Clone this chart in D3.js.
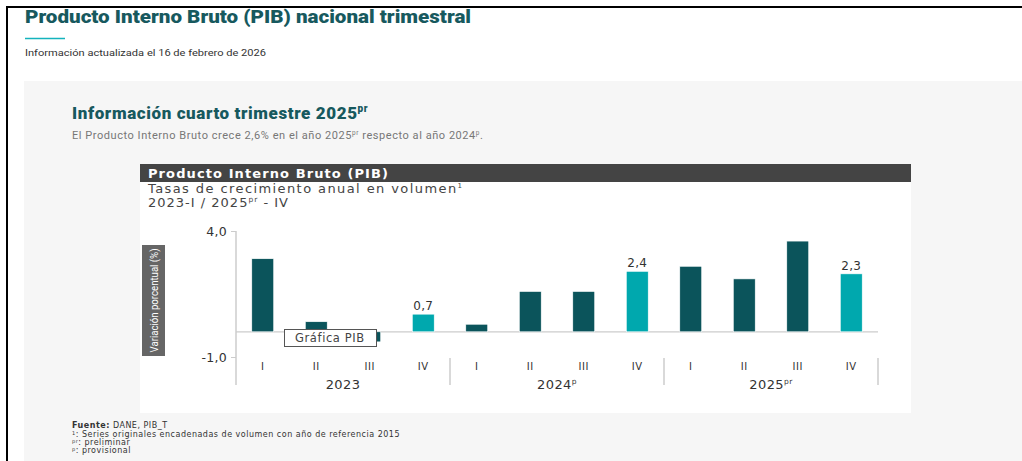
<!DOCTYPE html>
<html>
<head>
<meta charset="utf-8">
<script src="https://cdn.jsdelivr.net/npm/d3@7"></script>
<style>
  body { margin:0; padding:0; background:#fff; font-family: Roboto, "Open Sans", sans-serif; }
  svg { display:block; }
</style>
</head>
<body>
<svg class="svg1"></svg>
<script>
var canvasW = 1022;
var canvasH = 461;

// datos
var years = ["2023", "2024", "2025"];
var yearSup = ["", "p", "pr"];
var quarters = ["I", "II", "III", "IV"];
var values = [2.9, 0.4, -0.4, 0.7, 0.3, 1.6, 1.6, 2.4, 2.6, 2.1, 3.6, 2.3];
var yTicks = [4, -1];
var footNotes = [
  {sup: "1", txt: ": Series originales encadenadas de volumen con año de referencia 2015"},
  {sup: "pr", txt: ": preliminar"},
  {sup: "p", txt: ": provisional"}
];

var darkTeal = "#0b545b";
var lightTeal = "#00a8ae";
var titleTeal = "#17595e";
var chartFont = "'DejaVu Sans', sans-serif";
var pageFont = "Roboto, 'Open Sans', sans-serif";

var points = [];
var i = 0;
for (i = 0; i < values.length; i++) {
  points.push({
    id: years[Math.floor(i / 4)] + "-" + quarters[i % 4],
    year: Math.floor(i / 4),
    q: quarters[i % 4],
    v: values[i]
  });
}

var fmt = function(d){ return d3.format(".1f")(d).replace(".", ",").replace("\u2212", "-"); };

var svg = d3.select(".svg1")
  .attr("width", canvasW)
  .attr("height", canvasH)
  .style("font-family", pageFont);

svg.append("rect").attr("width", "100%").attr("height", "100%").attr("fill", "#fff");

// marco negro
svg.append("line").attr("x1", 6).attr("x2", canvasW).attr("y1", 7).attr("y2", 7)
  .attr("stroke", "#000").attr("stroke-width", 2);
svg.append("line").attr("x1", 7).attr("x2", 7).attr("y1", 6).attr("y2", canvasH)
  .attr("stroke", "#000").attr("stroke-width", 2);

// encabezado de la pagina
svg.append("text").attr("x", 25).attr("y", 23)
  .attr("font-size", 18).attr("font-weight", 900).attr("fill", titleTeal)
  .attr("textLength", 446).attr("lengthAdjust", "spacingAndGlyphs")
  .text("Producto Interno Bruto (PIB) nacional trimestral");
svg.append("line").attr("x1", 25).attr("x2", 65).attr("y1", 38.5).attr("y2", 38.5)
  .attr("stroke", "#14b3bd").attr("stroke-width", 1.5);
svg.append("text").attr("x", 25).attr("y", 56)
  .attr("font-size", 9.5).attr("fill", "#333")
  .attr("textLength", 241).attr("lengthAdjust", "spacingAndGlyphs")
  .text("Información actualizada el 16 de febrero de 2026");

// panel gris
svg.append("rect").attr("x", 24).attr("y", 81).attr("width", canvasW - 24).attr("height", canvasH - 81)
  .attr("fill", "#f6f6f6");

var t1 = svg.append("text").attr("x", 72).attr("y", 119)
  .attr("font-size", 17).attr("font-weight", 900).attr("fill", titleTeal)
  .attr("letter-spacing", 0.6);
t1.append("tspan").text("Información cuarto trimestre 2025");
t1.append("tspan").attr("font-size", 10).attr("dy", -7).text("pr");

var t2 = svg.append("text").attr("x", 72).attr("y", 139)
  .attr("font-size", 11).attr("fill", "#777").attr("letter-spacing", 0.55);
t2.append("tspan").text("El Producto Interno Bruto crece 2,6% en el año 2025");
t2.append("tspan").attr("font-size", 6.5).attr("dy", -4).text("pr");
t2.append("tspan").attr("dy", 4).text(" respecto al año 2024");
t2.append("tspan").attr("font-size", 6.5).attr("dy", -4).text("p");
t2.append("tspan").attr("dy", 4).text(".");

// caja de la grafica
svg.append("rect").attr("x", 140).attr("y", 164).attr("width", 771).attr("height", 249).attr("fill", "#fff");
svg.append("rect").attr("x", 140).attr("y", 164).attr("width", 771).attr("height", 18).attr("fill", "#444");

var chart = svg.append("g").style("font-family", chartFont);

chart.append("text").attr("x", 148).attr("y", 178)
  .attr("font-size", 13).attr("font-weight", 700).attr("fill", "#fff")
  .attr("textLength", 240).attr("lengthAdjust", "spacing")
  .text("Producto Interno Bruto (PIB)");

var s1 = chart.append("text").attr("x", 148).attr("y", 193)
  .attr("font-size", 13).attr("fill", "#444")
  .attr("textLength", 314).attr("lengthAdjust", "spacing");
s1.append("tspan").text("Tasas de crecimiento anual en volumen");
s1.append("tspan").attr("font-size", 7).attr("dy", -5).text("1");
var s2 = chart.append("text").attr("x", 148).attr("y", 207)
  .attr("font-size", 13).attr("fill", "#444")
  .attr("textLength", 140).attr("lengthAdjust", "spacing");
s2.append("tspan").text("2023-I / 2025");
s2.append("tspan").attr("font-size", 7.5).attr("dy", -5).text("pr");
s2.append("tspan").attr("dy", 5).text(" - IV");

// escalas
var x = d3.scaleBand()
  .domain(points.map(function(d){ return d.id; }))
  .range([236, 878])
  .paddingInner(0.59)
  .paddingOuter(0.295);
var y = d3.scaleLinear().domain([-1, 4]).range([357, 231]);

// eje y
var yAxis = chart.append("g")
  .attr("transform", "translate(236,0)")
  .call(d3.axisLeft(y).tickValues(yTicks).tickSize(5).tickPadding(4).tickFormat(fmt));
yAxis.attr("font-family", null);
yAxis.select(".domain").remove();
yAxis.selectAll(".tick line").attr("stroke", "#ccc");
yAxis.selectAll(".tick text")
  .attr("font-size", 12.5).attr("fill", "#333").attr("letter-spacing", 0.3);
chart.append("line").attr("x1", 236).attr("x2", 236).attr("y1", y(4)).attr("y2", 385)
  .attr("stroke", "#ccc").attr("stroke-width", 1.5);

// linea del cero
chart.append("line").attr("x1", 236).attr("x2", 878).attr("y1", y(0)).attr("y2", y(0))
  .attr("stroke", "#ccc").attr("stroke-width", 1.2);

// barras
chart.selectAll("rect.bar")
  .data(points)
  .enter()
  .append("rect")
  .attr("class", "bar")
  .attr("x", function(d){ return x(d.id); })
  .attr("width", x.bandwidth())
  .attr("y", function(d){ return y(Math.max(0, d.v)); })
  .attr("height", function(d){ return Math.abs(y(d.v) - y(0)); })
  .attr("fill", function(d){ return d.q == "IV" ? lightTeal : darkTeal; })
  .attr("stroke", "#fff").attr("stroke-width", 0.6);

// etiquetas de los cuartos trimestres
chart.selectAll("text.lbl")
  .data(points.filter(function(d){ return d.q == "IV"; }))
  .enter()
  .append("text")
  .attr("class", "lbl")
  .attr("x", function(d){ return x(d.id) + x.bandwidth() / 2; })
  .attr("y", function(d){ return y(d.v) - 4; })
  .attr("text-anchor", "middle")
  .attr("font-size", 12).attr("fill", "#333").attr("letter-spacing", 0.3)
  .text(function(d){ return fmt(d.v); });

// eje x: trimestres
chart.selectAll("text.q")
  .data(points)
  .enter()
  .append("text")
  .attr("class", "q")
  .attr("x", function(d){ return x(d.id) + x.bandwidth() / 2; })
  .attr("y", 370)
  .attr("text-anchor", "middle")
  .attr("font-size", 10).attr("fill", "#333").attr("letter-spacing", 0.5)
  .text(function(d){ return d.q; });

// separadores y años
var step = x.step();
var groupW = step * 4;
years.forEach(function(yr, k){
  var gx = 236 + k * groupW;
  chart.append("line").attr("x1", gx + groupW).attr("x2", gx + groupW).attr("y1", 358).attr("y2", 385)
    .attr("stroke", "#ccc").attr("stroke-width", 1.5);
  var yt = chart.append("text")
    .attr("x", gx + groupW / 2).attr("y", 389)
    .attr("text-anchor", "middle")
    .attr("font-size", 13).attr("fill", "#333").attr("letter-spacing", 0.4);
  yt.append("tspan").text(yr);
  if (yearSup[k] != "") {
    yt.append("tspan").attr("font-size", 7.5).attr("dy", -5).text(yearSup[k]);
  }
});

// titulo eje y
chart.append("rect").attr("x", 142).attr("y", 245).attr("width", 23).attr("height", 111).attr("fill", "#666");
chart.append("text")
  .attr("transform", "translate(158,300.5) rotate(-90)")
  .attr("text-anchor", "middle")
  .style("font-family", pageFont)
  .attr("font-size", 11).attr("fill", "#fff")
  .attr("textLength", 104).attr("lengthAdjust", "spacingAndGlyphs")
  .text("Variación porcentual (%)");

// tooltip capturado en la imagen
chart.append("rect").attr("x", 284.5).attr("y", 329.5).attr("width", 92).attr("height", 17)
  .attr("fill", "#fff").attr("stroke", "#555").attr("stroke-width", 1);
chart.append("text").attr("x", 295).attr("y", 342)
  .attr("font-size", 11.5).attr("fill", "#444").attr("letter-spacing", 0.6)
  .text("Gráfica PIB");

// notas al pie
var f0 = chart.append("text").attr("x", 72).attr("y", 428)
  .attr("font-size", 8).attr("fill", "#333").attr("letter-spacing", 0.5);
f0.append("tspan").attr("font-weight", 700).text("Fuente:");
f0.append("tspan").text(" DANE, PIB_T");
footNotes.forEach(function(n, k){
  var ft = chart.append("text").attr("x", 72).attr("y", 437 + k * 8)
    .attr("font-size", 8).attr("fill", "#333").attr("letter-spacing", 0.5);
  ft.append("tspan").attr("font-size", 5).attr("dy", -2).text(n.sup);
  ft.append("tspan").attr("dy", 2).text(n.txt);
});
</script>
</body>
</html>
